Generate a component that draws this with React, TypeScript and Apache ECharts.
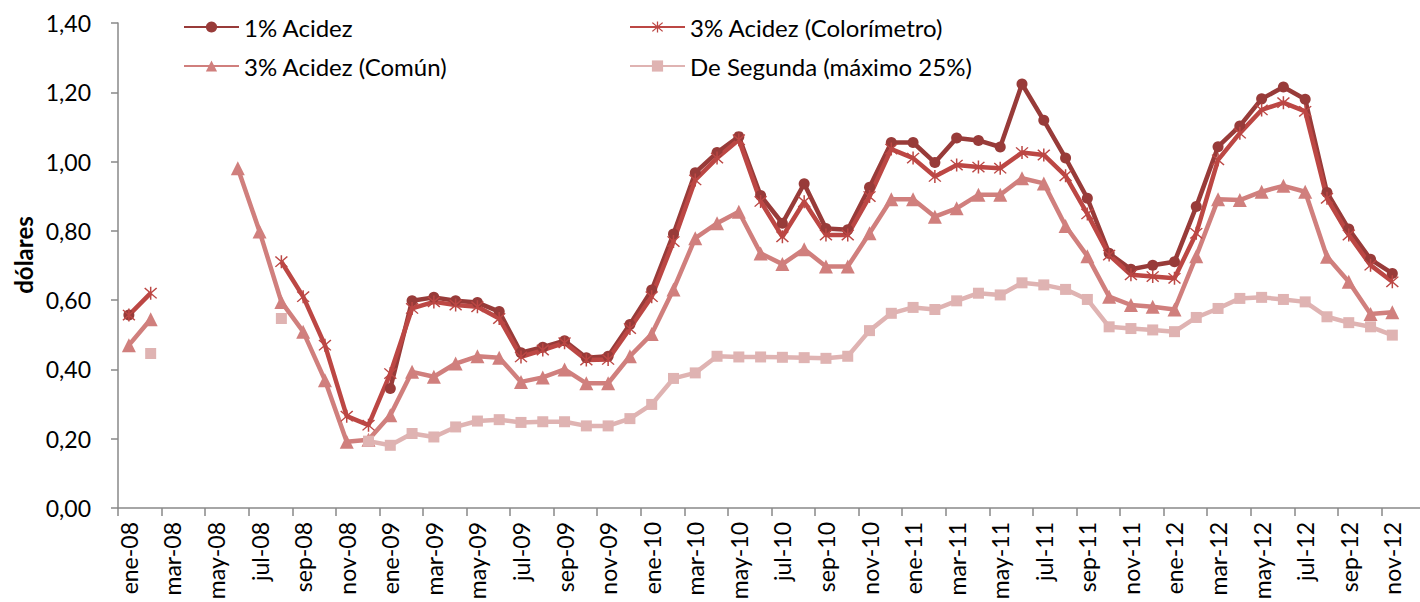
import React, { useEffect, useRef } from "react";
import * as echarts from "echarts";

const categories = [
  "ene-08","feb-08","mar-08","abr-08","may-08","jun-08","jul-08","ago-08","sep-08","oct-08","nov-08","dic-08",
  "ene-09","feb-09","mar-09","abr-09","may-09","jun-09","jul-09","ago-09","sep-09","oct-09","nov-09","dic-09",
  "ene-10","feb-10","mar-10","abr-10","may-10","jun-10","jul-10","ago-10","sep-10","oct-10","nov-10","dic-10",
  "ene-11","feb-11","mar-11","abr-11","may-11","jun-11","jul-11","ago-11","sep-11","oct-11","nov-11","dic-11",
  "ene-12","feb-12","mar-12","abr-12","may-12","jun-12","jul-12","ago-12","sep-12","oct-12","nov-12","dic-12",
];

const acidez1 = [
  0.557, null, null, null, null, null, null, null, null, null, null, null,
  0.345, 0.598, 0.608, 0.598, 0.593, 0.567, 0.448, 0.464, 0.483, 0.434, 0.438, 0.53,
  0.629, 0.791, 0.968, 1.026, 1.072, 0.902, 0.822, 0.936, 0.807, 0.803, 0.926, 1.055,
  1.055, 0.997, 1.068, 1.061, 1.042, 1.224, 1.119, 1.01, 0.894, 0.735, 0.689, 0.701,
  0.711, 0.87, 1.043, 1.103, 1.181, 1.215, 1.18, 0.911, 0.805, 0.718, 0.677, null,
];

const acidez3Color = [
  0.557, 0.62, null, null, null, null, null, 0.711, 0.61, 0.47, 0.265, 0.239,
  0.388, 0.576, 0.595, 0.586, 0.581, 0.547, 0.436, 0.456, 0.477, 0.427, 0.429, 0.518,
  0.61, 0.769, 0.947, 1.01, 1.063, 0.885, 0.783, 0.884, 0.788, 0.788, 0.899, 1.036,
  1.01, 0.957, 0.99, 0.984, 0.981, 1.026, 1.019, 0.959, 0.849, 0.73, 0.673, 0.668,
  0.663, 0.793, 1.005, 1.082, 1.149, 1.17, 1.145, 0.894, 0.788, 0.701, 0.653, null,
];

const acidez3Comun = [
  0.47, 0.545, null, null, null, 0.981, 0.798, 0.595, 0.509, 0.369, 0.191, 0.197,
  0.268, 0.393, 0.379, 0.417, 0.438, 0.434, 0.364, 0.377, 0.4, 0.36, 0.36, 0.438,
  0.502, 0.631, 0.779, 0.822, 0.855, 0.735, 0.704, 0.747, 0.697, 0.697, 0.793, 0.891,
  0.891, 0.841, 0.865, 0.904, 0.904, 0.952, 0.937, 0.814, 0.727, 0.61, 0.586, 0.581,
  0.573, 0.727, 0.891, 0.889, 0.913, 0.93, 0.913, 0.725, 0.653, 0.56, 0.565, null,
];

const deSegunda = [
  null, 0.446, null, null, null, null, null, 0.547, null, null, null, 0.193,
  0.181, 0.215, 0.205, 0.234, 0.251, 0.255, 0.247, 0.249, 0.249, 0.237, 0.237, 0.258,
  0.299, 0.374, 0.39, 0.438, 0.436, 0.436, 0.435, 0.434, 0.432, 0.438, 0.512, 0.562,
  0.579, 0.573, 0.598, 0.62, 0.615, 0.65, 0.644, 0.631, 0.602, 0.523, 0.518, 0.514,
  0.509, 0.55, 0.576, 0.605, 0.608, 0.602, 0.595, 0.552, 0.535, 0.523, 0.499, null,
];

const seriesNames = [
  "1% Acidez",
  "3% Acidez (Colorímetro)",
  "3% Acidez (Común)",
  "De Segunda (máximo 25%)",
];

const FONT = "Lato";
const AXIS_GRAY = "#898989";

const starPath =
  "path://M-0.1,-1L0.1,-1L0.1,1L-0.1,1Z" +
  "M-0.73,-0.87L0.87,0.73L0.73,0.87L-0.87,-0.73Z" +
  "M0.73,-0.87L0.87,-0.73L-0.73,0.87L-0.87,0.73Z";

export default function App() {
  const ref = useRef<HTMLDivElement>(null);

  useEffect(() => {
    if (!ref.current) return;
    const chart = echarts.init(ref.current, null, { renderer: "svg" });

    const mk = (name: string, data: (number | null)[], color: string, symbol: string, size: number) => ({
      name,
      type: "line",
      data,
      symbol,
      symbolSize: size,
      showSymbol: true,
      showAllSymbol: true,
      connectNulls: false,
      lineStyle: { color, width: 4.5 },
      itemStyle: { color },
      emphasis: { disabled: true },
    });

    const legendBase = {
      padding: 0,
      itemWidth: 55,
      itemHeight: 14,
      itemGap: 5,
      textStyle: { fontFamily: FONT, fontSize: 24, color: "#000", lineHeight: 28 },
    };

    chart.setOption({
      animation: false,
      backgroundColor: "#fff",
      textStyle: { fontFamily: FONT },
      grid: {
        left: 118,
        right: -5,
        top: 23,
        bottom: 94,
        containLabel: false,
        outerBoundsMode: "none",
      },
      legend: [
        { ...legendBase, left: 183, top: 13, data: [seriesNames[0]] },
        { ...legendBase, left: 629, top: 13, data: [seriesNames[1]] },
        { ...legendBase, left: 183, top: 52, data: [seriesNames[2]] },
        { ...legendBase, left: 629, top: 52, data: [seriesNames[3]] },
      ],
      xAxis: {
        type: "category",
        data: categories,
        boundaryGap: true,
        axisLine: { lineStyle: { color: AXIS_GRAY, width: 1.5 } },
        axisTick: { show: true, interval: 1, length: 8, lineStyle: { color: AXIS_GRAY, width: 1.5 } },
        axisLabel: {
          interval: 1,
          rotate: 90,
          margin: 14,
          fontFamily: FONT,
          fontSize: 23,
          color: "#000",
        },
        splitLine: { show: false },
      },
      yAxis: {
        type: "value",
        min: 0,
        max: 1.4,
        interval: 0.2,
        axisLine: { show: true, lineStyle: { color: AXIS_GRAY, width: 1.5 } },
        axisTick: { show: true, length: 7, lineStyle: { color: AXIS_GRAY, width: 1.5 } },
        axisLabel: {
          margin: 27,
          fontFamily: FONT,
          fontSize: 23,
          color: "#000",
          formatter: (v: number) => v.toFixed(2).replace(".", ","),
        },
        splitLine: { show: false },
      },
      graphic: [
        {
          type: "text",
          x: 23,
          y: 255,
          rotation: Math.PI / 2,
          style: {
            text: "dólares",
            fontFamily: FONT,
            fontSize: 24,
            fontWeight: "bold",
            fill: "#000",
            align: "center",
            verticalAlign: "middle",
          },
        },
      ],
      series: [
        mk(seriesNames[0], acidez1, "#983B39", "circle", 11),
        mk(seriesNames[1], acidez3Color, "#BC4744", starPath, 13),
        mk(seriesNames[2], acidez3Comun, "#D07F7D", "triangle", 14),
        mk(seriesNames[3], deSegunda, "#DFB3B2", "rect", 11),
      ],
    });

    return () => chart.dispose();
  }, []);

  return (
    <div
      ref={ref}
      style={{ position: "fixed", left: 0, top: 0, width: 1420, height: 602, background: "#fff" }}
    />
  );
}
